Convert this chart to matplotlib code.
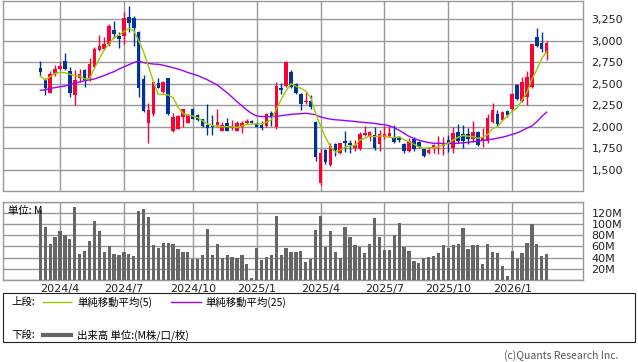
import numpy as np
import pandas as pd
import matplotlib
import matplotlib.pyplot as plt
from matplotlib.lines import Line2D
from matplotlib.patches import Rectangle

matplotlib.use('agg')

# weekly candles (Monday of each week)
dates = pd.date_range('2024-03-04', periods=104, freq='W-MON')

opens = [2678, 2551, 2396, 2612, 2670, 2763, 2647, 2373, 2570, 2659,
         2551, 2698, 2891, 2902, 2960, 3122, 3053, 3053, 3269, 3258,
         3095, 2555, 2049, 2145, 2504, 2400, 2562, 1952, 1979, 2118,
         2045, 2207, 2137, 2087, 2025, 2010, 2018, 1956, 2049, 1983,
         1956, 1995, 2041, 2068, 2033, 2025, 2010, 2165, 1994, 2446,
         2470, 2632, 2500, 2381, 2284, 2303, 2060, 1345, 1732, 1558,
         1797, 1701, 1836, 1817, 1750, 1742, 1905, 1886, 1907, 1803,
         1886, 1898, 1867, 1876, 1803, 1724, 1857, 1828, 1747, 1697,
         1750, 1801, 1782, 1848, 1759, 1937, 1917, 1913, 1855, 1937,
         1848, 1832, 2060, 2147, 2079, 2184, 2203, 2485, 2300, 2350,
         2460, 3045, 2976, 2860]
highs = [2767, 2566, 2651, 2717, 2755, 2860, 2698, 2659, 2667, 2667,
         2802, 2929, 3065, 3037, 3192, 3227, 3103, 3327, 3401, 3285,
         3115, 2601, 2280, 2535, 2562, 2531, 2570, 2157, 2134, 2207,
         2145, 2215, 2145, 2095, 2261, 2140, 2203, 2056, 2099, 2079,
         2072, 2068, 2087, 2080, 2060, 2068, 2157, 2188, 2524, 2512,
         2760, 2659, 2504, 2396, 2408, 2369, 2068, 1743, 1740, 1809,
         1809, 1817, 1952, 1848, 1845, 1940, 2010, 1948, 2000, 1965,
         2010, 2010, 2018, 1894, 1813, 1876, 1880, 1836, 1755, 1751,
         1800, 1894, 1886, 1906, 2002, 2033, 2021, 1983, 2068, 1952,
         1983, 2145, 2272, 2190, 2188, 2195, 2396, 2497, 2582, 2647,
         2965, 3150, 3095, 2995]
lows = [2589, 2373, 2392, 2590, 2659, 2659, 2346, 2253, 2516, 2458,
        2535, 2678, 2883, 2891, 2941, 3034, 2910, 2964, 3095, 2941,
        2350, 2172, 1817, 2130, 2446, 2396, 2141, 1940, 1975, 2002,
        2041, 2091, 2072, 1994, 1906, 1900, 2002, 1952, 1948, 1963,
        1948, 1933, 2029, 2041, 1995, 1964, 2002, 2014, 1975, 2377,
        2465, 2454, 2385, 2195, 2265, 2211, 1608, 1326, 1570, 1550,
        1662, 1689, 1705, 1701, 1720, 1735, 1890, 1840, 1736, 1724,
        1860, 1887, 1813, 1828, 1701, 1712, 1722, 1759, 1654, 1685,
        1693, 1685, 1673, 1712, 1701, 1809, 1751, 1801, 1828, 1778,
        1763, 1809, 2041, 2015, 2072, 2118, 2188, 2311, 2292, 2253,
        2455, 2930, 2871, 2775]
closes = [2640, 2454, 2612, 2670, 2705, 2667, 2396, 2543, 2612, 2543,
          2725, 2902, 2937, 2960, 3169, 3080, 3022, 3258, 3207, 3142,
          2446, 2184, 2195, 2520, 2454, 2520, 2149, 2114, 2130, 2207,
          2134, 2095, 2079, 2014, 1991, 1995, 2056, 2018, 1956, 2010,
          2049, 2041, 2068, 2049, 2002, 1987, 2149, 2110, 2477, 2427,
          2752, 2466, 2396, 2261, 2288, 2234, 1655, 1701, 1597, 1778,
          1732, 1809, 1809, 1785, 1790, 1920, 1930, 1940, 1760, 1915,
          1922, 1923, 1828, 1846, 1718, 1835, 1741, 1770, 1666, 1734,
          1785, 1817, 1817, 1801, 1925, 1840, 1840, 1855, 1937, 1790,
          1867, 2100, 2195, 2033, 2168, 2137, 2381, 2319, 2524, 2582,
          2960, 2941, 2902, 2976]
# volume, millions of shares
volumes = [124, 95, 64, 77, 88, 80, 73, 130, 46, 52,
           70, 105, 88, 50, 60, 46, 45, 50, 46, 43,
           123, 127, 112, 62, 57, 66, 66, 64, 55, 50,
           50, 37, 37, 45, 91, 45, 64, 39, 45, 41,
           39, 45, 29, 4, 57, 36, 41, 45, 114, 45,
           57, 50, 50, 52, 32, 37, 89, 114, 59, 88,
           50, 39, 95, 77, 62, 59, 48, 64, 111, 77,
           54, 54, 80, 102, 59, 52, 34, 30, 39, 41,
           43, 48, 62, 57, 62, 64, 93, 55, 62, 62,
           29, 64, 50, 48, 25, 7, 52, 37, 48, 66,
           100, 64, 43, 46]
ma5 = [2589, 2543, 2581, 2620, 2632, 2628, 2609, 2597, 2589, 2558,
       2558, 2678, 2794, 2891, 2968, 3037, 3065, 3103, 3142, 3115,
       2999, 2871, 2698, 2524, 2375, 2377, 2369, 2340, 2230, 2157,
       2137, 2126, 2105, 2070, 2035, 2014, 2010, 2002, 2002, 2000,
       1995, 2010, 2025, 2030, 2035, 2035, 2055, 2080, 2205, 2320,
       2418, 2500, 2470, 2445, 2415, 2340, 2160, 2010, 1880, 1775,
       1705, 1732, 1765, 1778, 1782, 1848, 1867, 1894, 1886, 1894,
       1894, 1878, 1875, 1886, 1848, 1828, 1797, 1770, 1751, 1759,
       1759, 1770, 1790, 1810, 1848, 1880, 1900, 1890, 1886, 1867,
       1880, 1910, 1980, 2000, 2070, 2125, 2180, 2220, 2310, 2400,
       2550, 2665, 2790, 2875]
ma25 = [2423, 2430, 2446, 2455, 2465, 2473, 2490, 2504, 2520, 2535,
        2545, 2555, 2575, 2595, 2620, 2640, 2670, 2695, 2720, 2745,
        2763, 2745, 2735, 2728, 2725, 2715, 2700, 2686, 2670, 2652,
        2630, 2612, 2595, 2570, 2545, 2515, 2485, 2440, 2395, 2345,
        2292, 2245, 2195, 2155, 2126, 2120, 2118, 2118, 2122, 2130,
        2137, 2145, 2149, 2153, 2157, 2150, 2140, 2115, 2100, 2090,
        2082, 2078, 2072, 2068, 2062, 2055, 2050, 2045, 2040, 2030,
        2025, 2012, 1990, 1960, 1925, 1890, 1865, 1845, 1830, 1818,
        1810, 1808, 1808, 1808, 1808, 1810, 1815, 1820, 1828, 1835,
        1842, 1850, 1858, 1868, 1880, 1895, 1912, 1930, 1955, 1985,
        2010, 2060, 2120, 2170]
price_ticks = [1500, 1750, 2000, 2250, 2500, 2750, 3000, 3250]
volume_grid = [20, 40, 60, 80, 100, 120]

UP = '#ff0033'
DOWN = '#003399'
GRID = '#999999'
JP = ['Noto Sans CJK JP', 'DejaVu Sans']

W, H = 638, 362
fig = plt.figure(figsize=(W / 100, H / 100), dpi=100)


def px_axes(left, top, right, bottom):
    """ Axes placed with pixel edges. """
    return fig.add_axes([left / W, 1 - bottom / H, (right - left) / W, (bottom - top) / H])


ax = px_axes(3, 1, 583, 190.5)
vax = px_axes(3, 201.5, 583, 280)

x = np.arange(len(dates))
o = np.array(opens, float)
c = np.array(closes, float)
colors = [UP if cc >= oo else DOWN for oo, cc in zip(o, c)]

# month ticks on first weekly candle of each quarter month
tick_idx = [i for i in range(1, len(dates))
            if dates[i].month != dates[i - 1].month and dates[i].month in (1, 4, 7, 10)]
tick_labels = [f"{dates[i].year}/{dates[i].month}" for i in tick_idx]

for a in (ax, vax):
    a.set_xlim(-7.6, 110.4)
    a.set_xticks(tick_idx)
    a.grid(True, color=GRID, lw=1.0)
    a.set_axisbelow(True)
    for s in a.spines.values():
        s.set_color(GRID)
        s.set_linewidth(1.0)
    a.yaxis.tick_right()
    a.tick_params(length=0, labelsize=8, colors='#222222', pad=6)

# price panel
ax.set_ylim(1262, 3459)
ax.set_yticks(price_ticks)
ax.set_yticklabels([f"{p:,}" for p in price_ticks])
ax.set_xticklabels([])
ax.vlines(x, lows, highs, colors=colors, lw=1.0, zorder=2)
body = np.maximum(np.abs(c - o), 10)
ax.bar(x, body, bottom=np.minimum(o, c), width=0.72, color=colors, zorder=3)
ax.plot(x, ma25, color='#9900ff', lw=1.0, zorder=4)
ax.plot(x, ma5, color='#99cc00', lw=1.0, zorder=4)

# volume panel
vax.set_ylim(0, 140)
vax.set_yticks([0] + volume_grid + [140])
vax.set_yticklabels([''] + [f"{v}M" for v in volume_grid] + [''])
vax.set_xticklabels(tick_labels)
vax.tick_params(axis='x', pad=3)
vax.bar(x, volumes, width=0.66, color='#666666', zorder=3)
vax.text(0.008, 0.88, '単位: M', transform=vax.transAxes, fontsize=7.5,
         family=JP, va='center', ha='left', zorder=5)

# legend box
fig.add_artist(Rectangle((3 / W, 1 - 342 / H), 632 / W, 49 / H, transform=fig.transFigure,
                         fill=False, edgecolor='#222222', lw=0.8))
y1, y2 = 1 - 302 / H, 1 - 335 / H
fig.text(11 / W, y1, '上段:', fontsize=7.5, family=JP, va='center')
fig.add_artist(Line2D([43 / W, 71 / W], [y1, y1], color='#99cc00', lw=1.0))
fig.text(77 / W, y1, '単純移動平均(5)', fontsize=7.5, family=JP, va='center')
fig.add_artist(Line2D([171 / W, 201 / W], [y1, y1], color='#9900ff', lw=1.0))
fig.text(205 / W, y1, '単純移動平均(25)', fontsize=7.5, family=JP, va='center')
fig.text(11 / W, y2, '下段:', fontsize=7.5, family=JP, va='center')
fig.add_artist(Line2D([43 / W, 71 / W], [y2, y2], color='#666666', lw=3.0))
fig.text(77 / W, y2, '出来高 単位:(M株/口/枚)', fontsize=7.5, family=JP, va='center')
fig.text(618 / W, 1 - 356 / H, '(c)Quants Research Inc.', fontsize=7.5,
         family=JP, color='#555555', ha='right', va='center')

fig.savefig('out.png', dpi=100)
